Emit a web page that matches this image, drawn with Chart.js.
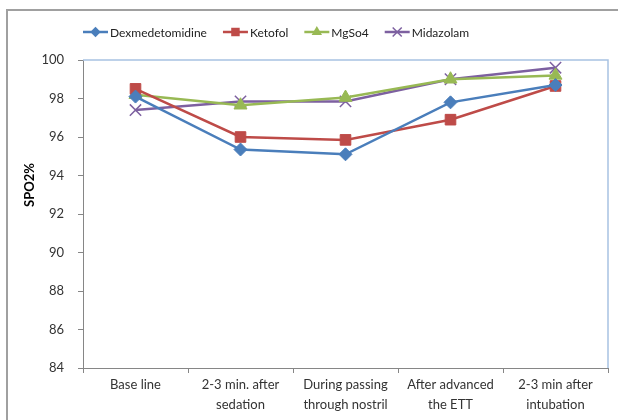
<!DOCTYPE html>
<html><head><meta charset="utf-8">
<script src="https://cdn.jsdelivr.net/npm/chart.js@4.4.0/dist/chart.umd.min.js"></script>
<style>html,body{margin:0;padding:0;background:#fff;} #wrap{width:618px;height:420px;position:relative;}</style>
</head><body><div id="wrap"><canvas id="c" width="618" height="420"></canvas></div>
<script>
const categories = [["Base line"],["2-3 min. after","sedation"],["During passing","through nostril"],["After advanced","the ETT"],["2-3 min after","intubation"]];
const seriesNames = ["Dexmedetomidine","Ketofol","MgSo4","Midazolam"];
const dexmedetomidine = [98.1, 95.35, 95.1, 97.8, 98.7];
const ketofol = [98.5, 96.0, 95.85, 96.9, 98.65];
const mgso4 = [98.2, 97.65, 98.05, 99.0, 99.2];
const midazolam = [97.4, 97.85, 97.85, 99.0, 99.6];
const yMin = 84, yMax = 100, yStep = 2;
const yTitle = "SPO2%";

const FONT = "Lato, 'Liberation Sans', sans-serif";
const colors = ["#4a7ebb", "#be4b48", "#98b954", "#7d60a0"];
const styles = ["rectRot", "rect", "triangle", "crossRot"];
const radii = [6.5, 7.5, 7.5, 8];
const values = [dexmedetomidine, ketofol, mgso4, midazolam];

function drawMarker(ctx, style, x, y, r, color) {
  ctx.save();
  ctx.fillStyle = color; ctx.strokeStyle = color; ctx.lineWidth = 1.5;
  ctx.beginPath();
  if (style === "rectRot") {
    ctx.moveTo(x, y - r); ctx.lineTo(x + r, y); ctx.lineTo(x, y + r); ctx.lineTo(x - r, y); ctx.closePath(); ctx.fill();
  } else if (style === "rect") {
    const s = r * Math.SQRT1_2; ctx.rect(x - s, y - s, 2 * s, 2 * s); ctx.fill();
  } else if (style === "triangle") {
    for (let i = 0; i < 3; i++) { const a = i * 2 * Math.PI / 3; const px = x + Math.sin(a) * r, py = y - Math.cos(a) * r; i ? ctx.lineTo(px, py) : ctx.moveTo(px, py); }
    ctx.closePath(); ctx.fill();
  } else {
    const s = r * Math.SQRT1_2; ctx.moveTo(x - s, y - s); ctx.lineTo(x + s, y + s); ctx.moveTo(x + s, y - s); ctx.lineTo(x - s, y + s); ctx.stroke();
  }
  ctx.restore();
}

const decor = {
  id: "decor",
  beforeDraw(chart) {
    const ctx = chart.ctx;
    ctx.save();
    ctx.fillStyle = "#fff"; ctx.fillRect(0, 0, chart.width, chart.height);
    ctx.strokeStyle = "#a0a0a0"; ctx.lineWidth = 2;
    ctx.beginPath(); ctx.moveTo(7, chart.height); ctx.lineTo(7, 10); ctx.lineTo(chart.width, 10); ctx.stroke();
    ctx.restore();
  },
  beforeDatasetsDraw(chart) {
    const ctx = chart.ctx, a = chart.chartArea;
    ctx.save();
    ctx.strokeStyle = "#a8c2e2"; ctx.lineWidth = 1.5;
    ctx.beginPath(); ctx.moveTo(a.left, a.top); ctx.lineTo(a.right, a.top); ctx.lineTo(a.right, a.bottom); ctx.stroke();
    ctx.restore();
  },
  afterDraw(chart) {
    const ctx = chart.ctx;
    ctx.save();
    ctx.translate(30, 185); ctx.rotate(-Math.PI / 2);
    ctx.font = "bold 13px " + FONT; ctx.fillStyle = "#000"; ctx.textAlign = "center"; ctx.textBaseline = "middle";
    ctx.fillText(yTitle, 0, 0);
    ctx.restore();
    ctx.save();
    ctx.font = "12px " + FONT; ctx.textBaseline = "middle"; ctx.textAlign = "left";
    let x = 83; const y = 32;
    chart.data.datasets.forEach((ds) => {
      ctx.strokeStyle = ds.borderColor; ctx.lineWidth = 2.5;
      ctx.beginPath(); ctx.moveTo(x, y); ctx.lineTo(x + 25, y); ctx.stroke();
      drawMarker(ctx, ds.pointStyle, x + 12.5, y, ds.pointRadius * 0.8, ds.borderColor);
      ctx.fillStyle = "#222";
      ctx.fillText(ds.label, x + 27, y + 1);
      x += 27 + ctx.measureText(ds.label).width + 16;
    });
    ctx.restore();
  }
};

new Chart(document.getElementById("c"), {
  type: "line",
  data: {
    labels: categories,
    datasets: seriesNames.map((n, i) => ({
      label: n, data: values[i], borderColor: colors[i], backgroundColor: colors[i],
      borderWidth: 2.5, pointStyle: styles[i], pointRadius: radii[i],
      pointBackgroundColor: colors[i], pointBorderColor: colors[i], pointBorderWidth: i === 3 ? 1.5 : 1,
      tension: 0, fill: false
    }))
  },
  options: {
    responsive: false, animation: false, devicePixelRatio: 1,
    layout: { padding: { top: 60, right: 10, bottom: 0, left: 0 } },
    plugins: { legend: { display: false }, tooltip: { enabled: false } },
    scales: {
      x: {
        offset: true,
        grid: { offset: true, drawOnChartArea: false, tickLength: 5, color: "#868686" },
        border: { color: "#868686", width: 1 },
        ticks: { color: "#333", font: { family: FONT, size: 13, lineHeight: 1.55 }, padding: 2, maxRotation: 0, autoSkip: false },
        afterFit(s) { s.height = 52; }
      },
      y: {
        min: yMin, max: yMax,
        grid: { drawOnChartArea: false, tickLength: 5, color: "#868686" },
        border: { color: "#868686", width: 1 },
        ticks: { stepSize: yStep, color: "#333", font: { family: FONT, size: 13 }, padding: 14 },
        afterFit(s) { s.width = 83; }
      }
    }
  },
  plugins: [decor]
});
</script></body></html>
